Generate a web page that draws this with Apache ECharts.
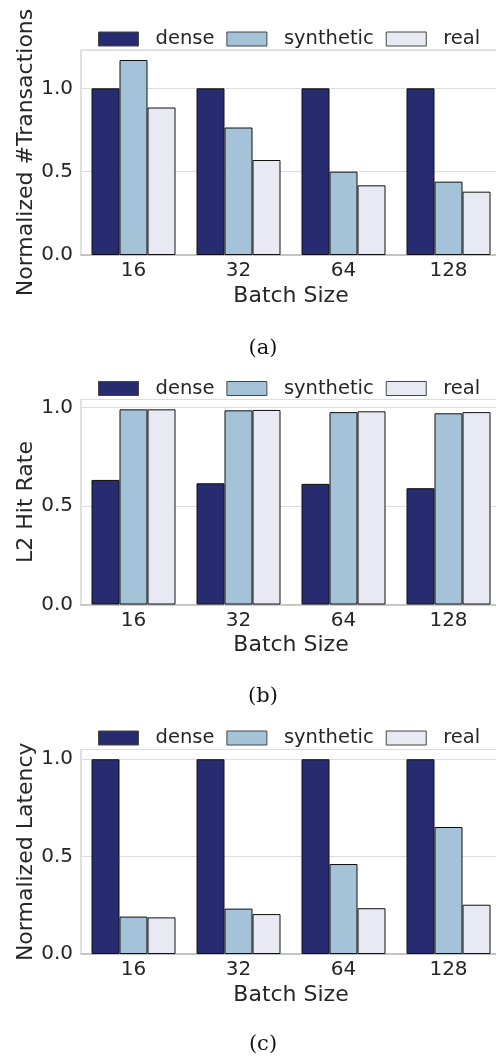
<!DOCTYPE html>
<html>
<head>
<meta charset="utf-8">
<script src="https://cdn.jsdelivr.net/npm/echarts@6/dist/echarts.min.js"></script>
<style>
html,body{margin:0;padding:0;overflow:hidden;background:#fff;}
#c{width:505px;height:1057px;}
</style>
</head>
<body>
<div id="c"></div>
<script>
var categories = ['16', '32', '64', '128'];
var seriesNames = ['dense', 'synthetic', 'real'];

var transDense = [1.0, 1.0, 1.0, 1.0];
var transSynthetic = [1.17, 0.765, 0.50, 0.44];
var transReal = [0.885, 0.57, 0.418, 0.38];

var hitDense = [0.632, 0.615, 0.612, 0.59];
var hitSynthetic = [0.99, 0.985, 0.976, 0.97];
var hitReal = [0.99, 0.987, 0.98, 0.976];

var latDense = [1.0, 1.0, 1.0, 1.0];
var latSynthetic = [0.192, 0.233, 0.462, 0.652];
var latReal = [0.188, 0.205, 0.235, 0.253];

var yLabels = ['Normalized #Transactions', 'L2 Hit Rate', 'Normalized Latency'];
var yMax = [1.23, 1.04, 1.05];
var captions = ['(a)', '(b)', '(c)'];
var xName = 'Batch Size';

var colors = ['#272c70', '#a4c3d9', '#e9e9f3'];
var panelData = [
  [transDense, transSynthetic, transReal],
  [hitDense, hitSynthetic, hitReal],
  [latDense, latSynthetic, latReal]
];

var gridTops = [50, 399.5, 749.5];
var gridHeights = [205, 205, 204.5];
var legendTops = [29, 378.5, 728];
var captionTops = [333, 681, 1029];

var txt = '#262626';
var font = 'DejaVu Sans';
var tickFs = 20;
var labelFs = 22;
var legendFs = 19.5;

var grids = [], xAxes = [], yAxes = [], series = [], legends = [], titles = [];
for (var p = 0; p < 3; p++) {
  grids.push({left: 81, width: 420, top: gridTops[p], height: gridHeights[p],
    show: true, borderColor: '#cccccc', borderWidth: 1.2, backgroundColor: 'transparent'});
  xAxes.push({type: 'category', gridIndex: p, data: categories,
    name: xName, nameLocation: 'middle', nameGap: 30, nameMoveOverlap: false,
    nameTextStyle: {color: txt, fontFamily: font, fontSize: labelFs},
    axisLine: {show: true, lineStyle: {color: '#bbbbbb', width: 1.5}},
    axisTick: {show: false},
    axisLabel: {color: txt, fontFamily: font, fontSize: tickFs, margin: 6}});
  yAxes.push({type: 'value', gridIndex: p, min: 0, max: yMax[p], interval: 0.5,
    name: yLabels[p], nameLocation: 'middle', nameGap: 44, nameMoveOverlap: false,
    nameTextStyle: {color: txt, fontFamily: font, fontSize: labelFs},
    axisLine: {show: false}, axisTick: {show: false},
    axisLabel: {color: txt, fontFamily: font, fontSize: tickFs, margin: 8,
      formatter: function (v) {
        return Math.abs(v * 2 - Math.round(v * 2)) < 1e-6 ? v.toFixed(1) : '';
      }},
    splitLine: {show: true, lineStyle: {color: '#dddddd', width: 1.2}}});
  for (var s = 0; s < 3; s++) {
    series.push({type: 'bar', name: seriesNames[s], xAxisIndex: p, yAxisIndex: p,
      data: panelData[p][s], barGap: '0%', barCategoryGap: '20%',
      itemStyle: {color: colors[s], borderColor: '#111111', borderWidth: 1},
      emphasis: {disabled: true}, animation: false});
  }
  legends.push({top: legendTops[p], left: 98, padding: 0, itemWidth: 40, itemHeight: 14,
    itemGap: 12, icon: 'rect', data: seriesNames,
    itemStyle: {borderColor: '#444444', borderWidth: 1},
    textStyle: {color: txt, fontFamily: font, fontSize: legendFs, lineHeight: 14, padding: [0, 0, 0, 12]}});
  titles.push({text: captions[p], left: 258, top: captionTops[p], textAlign: 'center',
    textStyle: {color: '#111111', fontFamily: 'DejaVu Serif', fontSize: 21, fontWeight: 'normal'}});
}

var chart = echarts.init(document.getElementById('c'), null, {renderer: 'canvas'});
chart.setOption({
  animation: false,
  color: colors,
  title: titles,
  legend: legends,
  grid: grids,
  xAxis: xAxes,
  yAxis: yAxes,
  series: series
});
</script>
</body>
</html>
